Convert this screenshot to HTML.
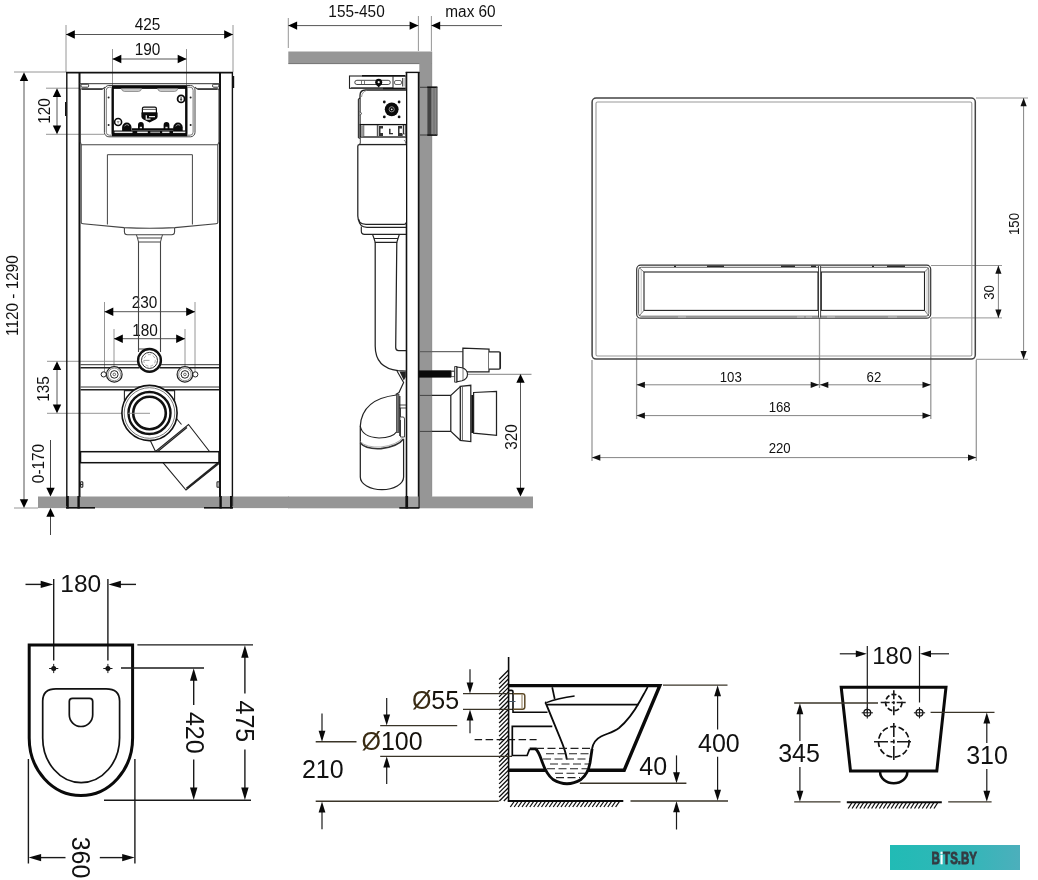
<!DOCTYPE html>
<html><head><meta charset="utf-8"><title>Installation drawing</title>
<style>
html,body{margin:0;padding:0;background:#fff;}
body{width:1038px;height:880px;overflow:hidden;font-family:"Liberation Sans",sans-serif;}
svg{display:block;font-family:"Liberation Sans",sans-serif;will-change:transform;}
</style></head><body>
<svg width="1038" height="880" viewBox="0 0 1038 880">
<rect x="0" y="0" width="1038" height="880" fill="#fff"/>
<g id="front" fill="none" stroke-linecap="butt">
<rect x="38" y="496.5" width="251" height="11.6" fill="#969696"/>
<line x1="66.0" y1="25.0" x2="66.0" y2="72.0" stroke="#8a8a8a" stroke-width="0.9" />
<line x1="233.0" y1="25.0" x2="233.0" y2="72.0" stroke="#8a8a8a" stroke-width="0.9" />
<line x1="66.0" y1="34.5" x2="233.0" y2="34.5" stroke="#555" stroke-width="1" />
<polygon points="66.0,34.5 74.8,30.3 74.8,38.7" fill="#000"/>
<polygon points="233.0,34.5 224.2,30.3 224.2,38.7" fill="#000"/>
<text transform="translate(147.5 30.5) scale(0.96 1)" x="0" y="-0.3" font-size="16" text-anchor="middle" fill="#111" >425</text>
<line x1="112.5" y1="49.0" x2="112.5" y2="87.0" stroke="#8a8a8a" stroke-width="0.9" />
<line x1="186.5" y1="49.0" x2="186.5" y2="87.0" stroke="#8a8a8a" stroke-width="0.9" />
<line x1="112.5" y1="59.0" x2="186.5" y2="59.0" stroke="#555" stroke-width="1" />
<polygon points="112.5,59.0 121.3,54.8 121.3,63.2" fill="#000"/>
<polygon points="186.5,59.0 177.7,54.8 177.7,63.2" fill="#000"/>
<text transform="translate(147.5 55.5) scale(0.96 1)" x="0" y="-0.3" font-size="16" text-anchor="middle" fill="#111" >190</text>
<line x1="14.0" y1="72.0" x2="66.0" y2="72.0" stroke="#8a8a8a" stroke-width="0.9" />
<line x1="14.0" y1="508.0" x2="38.0" y2="508.0" stroke="#8a8a8a" stroke-width="0.9" />
<line x1="24.0" y1="74.0" x2="24.0" y2="506.0" stroke="#555" stroke-width="1" />
<polygon points="24.0,72.3 19.8,81.1 28.2,81.1" fill="#000"/>
<polygon points="24.0,508.0 19.8,499.2 28.2,499.2" fill="#000"/>
<text transform="translate(18.4 295.5) rotate(-90) scale(0.96 1)" x="0" y="-0.3" font-size="16" text-anchor="middle" fill="#111" >1120 - 1290</text>
<line x1="46.0" y1="88.2" x2="80.0" y2="88.2" stroke="#8a8a8a" stroke-width="0.9" />
<line x1="46.0" y1="134.3" x2="104.0" y2="134.3" stroke="#8a8a8a" stroke-width="0.9" />
<line x1="57.0" y1="90.0" x2="57.0" y2="132.0" stroke="#555" stroke-width="1" />
<polygon points="57.0,88.2 52.8,97.0 61.2,97.0" fill="#000"/>
<polygon points="57.0,134.3 52.8,125.5 61.2,125.5" fill="#000"/>
<text transform="translate(49.8 111.0) rotate(-90) scale(0.96 1)" x="0" y="-0.3" font-size="16" text-anchor="middle" fill="#111" >120</text>
<line x1="47.0" y1="361.3" x2="138.0" y2="361.3" stroke="#8a8a8a" stroke-width="0.9" />
<line x1="47.0" y1="413.3" x2="150.0" y2="413.3" stroke="#8a8a8a" stroke-width="0.9" />
<line x1="57.0" y1="363.0" x2="57.0" y2="411.0" stroke="#555" stroke-width="1" />
<polygon points="57.0,361.3 52.8,370.1 61.2,370.1" fill="#000"/>
<polygon points="57.0,413.3 52.8,404.5 61.2,404.5" fill="#000"/>
<text transform="translate(49.0 389.0) rotate(-90) scale(0.96 1)" x="0" y="-0.3" font-size="16" text-anchor="middle" fill="#111" >135</text>
<line x1="50.5" y1="440.0" x2="50.5" y2="490.0" stroke="#444" stroke-width="1" />
<polygon points="50.5,496.5 46.3,487.7 54.7,487.7" fill="#000"/>
<line x1="50.5" y1="516.0" x2="50.5" y2="535.0" stroke="#444" stroke-width="1" />
<polygon points="50.5,508.0 46.3,516.8 54.7,516.8" fill="#000"/>
<text transform="translate(44.6 463.5) rotate(-90) scale(0.96 1)" x="0" y="-0.3" font-size="16" text-anchor="middle" fill="#111" >0-170</text>
<line x1="104.5" y1="302.0" x2="104.5" y2="372.0" stroke="#8a8a8a" stroke-width="0.9" />
<line x1="195.0" y1="302.0" x2="195.0" y2="372.0" stroke="#8a8a8a" stroke-width="0.9" />
<line x1="104.5" y1="311.7" x2="195.0" y2="311.7" stroke="#555" stroke-width="1" />
<polygon points="104.5,311.7 113.3,307.5 113.3,315.9" fill="#000"/>
<polygon points="195.0,311.7 186.2,307.5 186.2,315.9" fill="#000"/>
<text transform="translate(144.5 308.0) scale(0.96 1)" x="0" y="-0.3" font-size="16" text-anchor="middle" fill="#111" >230</text>
<line x1="114.0" y1="329.0" x2="114.0" y2="368.0" stroke="#8a8a8a" stroke-width="0.9" />
<line x1="185.0" y1="329.0" x2="185.0" y2="368.0" stroke="#8a8a8a" stroke-width="0.9" />
<line x1="114.0" y1="338.7" x2="185.0" y2="338.7" stroke="#555" stroke-width="1" />
<polygon points="114.0,338.7 122.8,334.5 122.8,342.9" fill="#000"/>
<polygon points="185.0,338.7 176.2,334.5 176.2,342.9" fill="#000"/>
<text transform="translate(145.0 336.0) scale(0.96 1)" x="0" y="-0.3" font-size="16" text-anchor="middle" fill="#111" >180</text>
<line x1="66.8" y1="72.0" x2="66.8" y2="506.0" stroke="#111" stroke-width="1.4" />
<line x1="79.5" y1="72.0" x2="79.5" y2="497.0" stroke="#111" stroke-width="2" />
<line x1="220.0" y1="72.0" x2="220.0" y2="497.0" stroke="#111" stroke-width="2" />
<line x1="232.4" y1="72.0" x2="232.4" y2="506.0" stroke="#111" stroke-width="1.4" />
<line x1="65.6" y1="102.0" x2="65.6" y2="116.0" stroke="#111" stroke-width="1.2" />
<line x1="233.6" y1="76.0" x2="233.6" y2="88.0" stroke="#111" stroke-width="1.2" />
<line x1="66.0" y1="72.7" x2="233.0" y2="72.7" stroke="#111" stroke-width="1.7" />
<line x1="79.5" y1="83.7" x2="220.0" y2="83.7" stroke="#333" stroke-width="1" />
<rect x="81" y="84.2" width="7.6" height="3" rx="1" stroke="#333" stroke-width="1"/>
<rect x="212.6" y="84.2" width="6.2" height="3" rx="1" stroke="#333" stroke-width="1"/>
<line x1="82.0" y1="89.2" x2="102.5" y2="89.2" stroke="#222" stroke-width="1.4" />
<line x1="197.5" y1="89.2" x2="217.5" y2="89.2" stroke="#222" stroke-width="1.4" />
<rect x="67" y="496.5" width="12.5" height="11.5" fill="#a2a2a2"/>
<rect x="220" y="496.5" width="12.5" height="11.5" fill="#a2a2a2"/>
<line x1="67.6" y1="496.0" x2="67.6" y2="508.5" stroke="#111" stroke-width="2.4" />
<line x1="78.6" y1="496.0" x2="78.6" y2="508.5" stroke="#111" stroke-width="2.4" />
<line x1="220.6" y1="496.0" x2="220.6" y2="508.5" stroke="#111" stroke-width="2.4" />
<line x1="231.2" y1="496.0" x2="231.2" y2="508.5" stroke="#111" stroke-width="2.4" />
<line x1="66.0" y1="507.8" x2="95.0" y2="507.8" stroke="#111" stroke-width="1.6" />
<line x1="204.0" y1="507.8" x2="233.0" y2="507.8" stroke="#111" stroke-width="1.6" />
<rect x="80.6" y="481.8" width="2.2" height="5.4" rx="0.8" stroke="#222" stroke-width="1.1"/>
<line x1="80.6" y1="484.5" x2="82.8" y2="484.5" stroke="#222" stroke-width="0.9" />
<rect x="217" y="481.8" width="2.2" height="5.4" rx="0.8" stroke="#222" stroke-width="1.1"/>
<path d="M81.5,88.9 H102 Q104,88.9 104.7,87 M195.2,87 Q196,88.9 198,88.9 H217.5 Q219,88.9 219,90.5 V142 L217.8,144.8 V222.5 Q217.8,223.6 216,223.8 L175,227.6 Q150,229 124,227.6 L83,223.8 Q81.2,223.6 81.2,222.5 V144.8 L80.3,142 V90.5 Q80.3,88.9 81.5,88.9" stroke="#444" stroke-width="1.1"/>
<line x1="81.2" y1="144.8" x2="217.8" y2="144.8" stroke="#444" stroke-width="1.1" />
<path d="M107.4,224.5 V154.7 H192.4 V224.5" stroke="#444" stroke-width="1"/>
<path d="M124.4,228 V231.5 Q124.4,234.8 127.5,234.8 H171.5 Q174.6,234.8 174.6,231.5 V228" stroke="#444" stroke-width="1.1"/>
<path d="M136.4,234.8 L137.5,238 H161.5 L162.5,234.8 M137.5,238 L138.5,242 H160.5 L161.5,238" stroke="#444" stroke-width="1"/>
<line x1="138.5" y1="242.0" x2="138.5" y2="352.0" stroke="#444" stroke-width="1.1" />
<line x1="160.5" y1="242.0" x2="160.5" y2="352.0" stroke="#444" stroke-width="1.1" />
<line x1="138.5" y1="349.0" x2="147.0" y2="349.0" stroke="#444" stroke-width="1" />
<rect x="104.4" y="85.5" width="90.6" height="51.3" rx="4.5" stroke="#444" stroke-width="1"/>
<rect x="106.3" y="87.2" width="86.8" height="48" rx="3" stroke="#666" stroke-width="0.9"/>
<rect x="112.7" y="87.6" width="73.6" height="47" rx="1.5" stroke="#0a0a0a" stroke-width="2.4" fill="#fff"/>
<line x1="112.0" y1="87.1" x2="187.2" y2="87.1" stroke="#0a0a0a" stroke-width="2.6" />
<line x1="112.0" y1="135.0" x2="187.2" y2="135.0" stroke="#0a0a0a" stroke-width="2.4" />
<circle cx="108.6" cy="97.4" r="1" fill="#222" stroke="none"/>
<circle cx="108.6" cy="125" r="1" fill="#222" stroke="none"/>
<circle cx="190.6" cy="97.4" r="1" fill="#222" stroke="none"/>
<circle cx="190.6" cy="125" r="1" fill="#222" stroke="none"/>
<path d="M121.4,88.6 Q122,91.4 124.5,91.4 H138.5 Q141,91.4 141.6,88.6 Z M157.6,88.6 Q158.2,91.4 160.7,91.4 H174.7 Q177.2,91.4 177.8,88.6 Z" fill="#d0d0d0" stroke="#777" stroke-width="0.8"/>
<circle cx="181.1" cy="98.9" r="3.5" stroke="#0a0a0a" stroke-width="1.8"/>
<path d="M181.1,97 V101 M180,99.3 H182.2" stroke="#222" stroke-width="0.9"/>
<circle cx="118.1" cy="122" r="3.5" stroke="#0a0a0a" stroke-width="1.6"/>
<path d="M116.6,121 L118.1,124 L119.6,121 Z" fill="#999" stroke="none"/>
<path d="M122.1,131 V127.3 A4.7,4.7 0 0 1 131.5,127.3 V131 Z" fill="#0a0a0a" stroke="none"/>
<path d="M124.6,126.3 A2.6,2.6 0 0 1 129.0,125.6" stroke="#aaa" stroke-width="0.9"/>
<path d="M173.3,131 V127.3 A4.7,4.7 0 0 1 182.7,127.3 V131 Z" fill="#0a0a0a" stroke="none"/>
<path d="M175.8,126.3 A2.6,2.6 0 0 1 180.2,125.6" stroke="#aaa" stroke-width="0.9"/>
<path d="M138.0,130 V124.9 A2.9,2.9 0 0 1 143.8,124.9 V130 Z" fill="#0a0a0a" stroke="none"/>
<rect x="139.8" y="126.8" width="2.2" height="2.4" fill="#e8e8e8" stroke="none"/>
<path d="M163.6,130 V124.9 A2.9,2.9 0 0 1 169.4,124.9 V130 Z" fill="#0a0a0a" stroke="none"/>
<rect x="165.4" y="126.8" width="2.2" height="2.4" fill="#e8e8e8" stroke="none"/>
<line x1="131.8" y1="129.4" x2="174.2" y2="129.4" stroke="#0a0a0a" stroke-width="2.2" />
<rect x="113.5" y="130.5" width="72" height="4" fill="#0a0a0a" stroke="none"/>
<line x1="114.5" y1="132.3" x2="132.5" y2="132.3" stroke="#e4e4e4" stroke-width="1.5" />
<line x1="137.2" y1="132.3" x2="147.8" y2="132.3" stroke="#e4e4e4" stroke-width="1.5" />
<line x1="150.3" y1="132.3" x2="160.0" y2="132.3" stroke="#999" stroke-width="1.5" />
<line x1="162.2" y1="132.3" x2="169.5" y2="132.3" stroke="#e4e4e4" stroke-width="1.5" />
<line x1="173.0" y1="132.3" x2="185.3" y2="132.3" stroke="#e4e4e4" stroke-width="1.5" />
<path d="M142.4,113 V108.7 Q142.4,107.2 144,107.2 H154.8 Q156.4,107.2 156.4,108.7 V113 Z" fill="#fff" stroke="#0a0a0a" stroke-width="1.2"/>
<line x1="142.6" y1="109.4" x2="156.2" y2="109.4" stroke="#333" stroke-width="0.8" />
<path d="M141.4,112.6 H157.6 V116.8 Q157.6,118.6 155.6,119.6 L149.6,122.6 L143.5,119.6 Q141.4,118.6 141.4,116.8 Z" fill="#0a0a0a" stroke="none"/>
<path d="M146.3,115.2 V119.2 H150.5 M149,116.6 H155" stroke="#e8e8e8" stroke-width="1.3"/>
<circle cx="149.5" cy="360.4" r="11.4" stroke="#111" stroke-width="2.4" fill="#fff"/>
<circle cx="149.5" cy="360.4" r="8" stroke="#333" stroke-width="1" fill="#fff"/>
<circle cx="149.5" cy="360.4" r="5.8" stroke="#999" stroke-width="0.8" stroke-dasharray="3 2"/>
<line x1="144.0" y1="360.4" x2="149.5" y2="360.4" stroke="#888" stroke-width="0.8" />
<line x1="80.5" y1="364.7" x2="138.0" y2="364.7" stroke="#333" stroke-width="1" />
<line x1="161.0" y1="364.7" x2="219.0" y2="364.7" stroke="#333" stroke-width="1" />
<line x1="80.5" y1="367.8" x2="139.5" y2="367.8" stroke="#222" stroke-width="1.4" />
<line x1="159.5" y1="367.8" x2="219.0" y2="367.8" stroke="#222" stroke-width="1.4" />
<line x1="80.5" y1="387.0" x2="219.0" y2="387.0" stroke="#333" stroke-width="1" />
<line x1="80.5" y1="389.8" x2="219.0" y2="389.8" stroke="#222" stroke-width="1.4" />
<circle cx="103.7" cy="374.4" r="2.6" stroke="#222" stroke-width="1" fill="#fff"/>
<circle cx="114.3" cy="374.4" r="7.8" stroke="#222" stroke-width="1.2" fill="#fff"/>
<circle cx="114.3" cy="374.4" r="6.3" stroke="#777" stroke-width="0.8"/>
<circle cx="114.3" cy="374.4" r="3.8" stroke="#222" stroke-width="1"/>
<circle cx="114.3" cy="374.4" r="1.3" stroke="#444" stroke-width="0.8"/>
<circle cx="195.3" cy="374.4" r="2.6" stroke="#222" stroke-width="1" fill="#fff"/>
<circle cx="184.9" cy="374.4" r="7.8" stroke="#222" stroke-width="1.2" fill="#fff"/>
<circle cx="184.9" cy="374.4" r="6.3" stroke="#777" stroke-width="0.8"/>
<circle cx="184.9" cy="374.4" r="3.8" stroke="#222" stroke-width="1"/>
<circle cx="184.9" cy="374.4" r="1.3" stroke="#444" stroke-width="0.8"/>
<path d="M124.4,402 V390.6 H174.6 V402" stroke="#222" stroke-width="1.1"/>
<path d="M150.5,441 L155.5,451.5 M176,418 L181.5,424.5 M155.5,451.5 L188.5,424.5 L209.5,451.5 M157.5,451.7 L187,427.5" stroke="#222" stroke-width="1.1"/>
<path d="M163,462.7 L186,490 L219,463.5" stroke="#222" stroke-width="1.1"/>
<line x1="186.5" y1="488.5" x2="218.0" y2="463.0" stroke="#222" stroke-width="1.8" />
<circle cx="149.5" cy="413" r="27.6" stroke="#111" stroke-width="1.6" fill="#fff"/>
<circle cx="149.5" cy="413" r="25.3" stroke="#555" stroke-width="0.8"/>
<circle cx="149.5" cy="413" r="21" stroke="#111" stroke-width="2.4"/>
<circle cx="149.5" cy="413" r="16.3" stroke="#111" stroke-width="2.6"/>
<line x1="128.0" y1="413.3" x2="150.0" y2="413.3" stroke="#8a8a8a" stroke-width="0.9" />
<rect x="80.5" y="451.7" width="138.5" height="11" fill="#fff" stroke="#111" stroke-width="1.5"/>
</g>
<g id="side" fill="none">
<rect x="288.3" y="51.5" width="143.3" height="12" fill="#969696"/>
<rect x="419.3" y="63" width="12.3" height="434" fill="#969696"/>
<rect x="288" y="496.5" width="245" height="11.8" fill="#969696"/>
<line x1="288.3" y1="63.6" x2="419.5" y2="63.6" stroke="#666" stroke-width="0.9" />
<line x1="431.7" y1="51.5" x2="431.7" y2="496.5" stroke="#777" stroke-width="0.8" />
<line x1="288.3" y1="18.0" x2="288.3" y2="48.0" stroke="#8a8a8a" stroke-width="0.9" />
<line x1="418.4" y1="16.0" x2="418.4" y2="51.0" stroke="#8a8a8a" stroke-width="0.9" />
<line x1="431.4" y1="16.0" x2="431.4" y2="51.0" stroke="#8a8a8a" stroke-width="0.9" />
<line x1="288.3" y1="25.6" x2="418.4" y2="25.6" stroke="#555" stroke-width="1" />
<polygon points="288.3,25.6 297.1,21.4 297.1,29.8" fill="#000"/>
<polygon points="418.4,25.6 409.6,21.4 409.6,29.8" fill="#000"/>
<line x1="431.4" y1="25.6" x2="502.0" y2="25.6" stroke="#555" stroke-width="1" />
<polygon points="431.4,25.6 440.2,21.4 440.2,29.8" fill="#000"/>
<text transform="translate(356.5 17.5) scale(0.96 1)" x="0" y="-0.3" font-size="16" text-anchor="middle" fill="#111" >155-450</text>
<text transform="translate(470.5 17.5) scale(0.96 1)" x="0" y="-0.3" font-size="16" text-anchor="middle" fill="#111" >max 60</text>
<line x1="467.5" y1="374.3" x2="531.5" y2="374.3" stroke="#777" stroke-width="0.9" />
<line x1="520.5" y1="376.0" x2="520.5" y2="494.0" stroke="#555" stroke-width="1" />
<polygon points="520.5,374.0 516.3,382.8 524.7,382.8" fill="#000"/>
<polygon points="520.5,496.5 516.3,487.7 524.7,487.7" fill="#000"/>
<text transform="translate(517.2 437.0) rotate(-90) scale(0.96 1)" x="0" y="-0.3" font-size="16" text-anchor="middle" fill="#111" >320</text>
<rect x="420" y="87.3" width="17" height="47.6" fill="#989898"/>
<rect x="427.4" y="87.3" width="4.2" height="47.6" fill="#444"/>
<rect x="431.6" y="87.3" width="5.6" height="47.6" fill="#888"/>
<line x1="420.0" y1="87.3" x2="427.4" y2="87.3" stroke="#444" stroke-width="1.1" />
<line x1="420.0" y1="135.0" x2="427.4" y2="135.0" stroke="#444" stroke-width="1.1" />
<line x1="427.2" y1="87.2" x2="437.4" y2="87.2" stroke="#111" stroke-width="1.6" />
<line x1="427.2" y1="135.1" x2="437.4" y2="135.1" stroke="#111" stroke-width="1.6" />
<line x1="437.0" y1="87.3" x2="437.0" y2="135.0" stroke="#555" stroke-width="1" />
<line x1="434.0" y1="88.0" x2="434.0" y2="134.5" stroke="#666" stroke-width="0.8" />
<rect x="406.5" y="72.2" width="12.2" height="436" fill="#fff" stroke="none"/>
<line x1="406.5" y1="72.0" x2="406.5" y2="508.0" stroke="#111" stroke-width="1.6" />
<line x1="418.7" y1="72.0" x2="418.7" y2="508.0" stroke="#111" stroke-width="1.8" />
<line x1="405.7" y1="72.4" x2="419.5" y2="72.4" stroke="#111" stroke-width="1.4" />
<rect x="407" y="496.5" width="11.5" height="11.5" fill="#a2a2a2"/>
<line x1="399.3" y1="507.9" x2="419.4" y2="507.9" stroke="#111" stroke-width="1.6" />
<line x1="406.8" y1="496.0" x2="406.8" y2="508.5" stroke="#111" stroke-width="2.6" />
<rect x="349.5" y="76" width="56.5" height="12.3" fill="#fff" stroke="#222" stroke-width="1.1"/>
<line x1="362.0" y1="75.8" x2="405.0" y2="75.8" stroke="#111" stroke-width="1.6" />
<line x1="351.0" y1="87.5" x2="393.0" y2="87.5" stroke="#666" stroke-width="1" />
<line x1="383.0" y1="88.6" x2="405.0" y2="88.6" stroke="#111" stroke-width="1.5" />
<rect x="354.8" y="80.3" width="35.5" height="4.2" rx="2.1" stroke="#333" stroke-width="0.9"/>
<line x1="361.5" y1="80.5" x2="361.5" y2="84.3" stroke="#555" stroke-width="0.8" />
<line x1="364.5" y1="80.5" x2="364.5" y2="84.3" stroke="#555" stroke-width="0.8" />
<line x1="393.0" y1="76.0" x2="393.0" y2="88.0" stroke="#222" stroke-width="1" />
<rect x="394.5" y="80.5" width="7" height="4" rx="1.5" stroke="#444" stroke-width="0.8"/>
<line x1="402.5" y1="78.0" x2="402.5" y2="86.5" stroke="#444" stroke-width="0.9" />
<line x1="404.0" y1="78.0" x2="404.0" y2="86.5" stroke="#777" stroke-width="0.8" />
<circle cx="378.7" cy="82.2" r="3.5" fill="#0a0a0a"/>
<path d="M375.8,84 L378.7,87.4 L381.6,84 Z" fill="#0a0a0a"/>
<circle cx="378.7" cy="82.2" r="1.1" fill="#f2f2f2"/>
<path d="M406,90 H365.5 Q360,90 360,95.5 V124.6 H406" fill="#fff" stroke="#222" stroke-width="1.3"/>
<path d="M361.5,97 Q362,91.5 367,90.3" stroke="#777" stroke-width="0.8"/>
<path d="M359.8,98 L358.4,99.5 V137.5 L359.8,138.5" stroke="#222" stroke-width="1.15"/>
<line x1="359.3" y1="99.0" x2="359.3" y2="138.0" stroke="#999" stroke-width="0.9" />
<path d="M360,111.5 Q363,113.5 360,115.5" stroke="#444" stroke-width="1" fill="#ddd"/>
<circle cx="391.7" cy="109.3" r="6.9" fill="#0a0a0a"/>
<circle cx="391.7" cy="109.3" r="2.6" fill="none" stroke="#aaa" stroke-width="0.8"/>
<circle cx="391.7" cy="109.3" r="0.9" fill="#eee"/>
<circle cx="384.3" cy="102" r="1.4" fill="#111"/>
<circle cx="399.1" cy="102" r="1.4" fill="#111"/>
<circle cx="384.3" cy="116.9" r="1.4" fill="#111"/>
<circle cx="399.1" cy="116.9" r="1.4" fill="#111"/>
<rect x="360.2" y="124.6" width="45.8" height="12.4" fill="#fff" stroke="#111" stroke-width="1.3"/>
<rect x="361" y="125.4" width="2.6" height="11" fill="#999"/>
<line x1="377.6" y1="125.0" x2="377.6" y2="137.0" stroke="#555" stroke-width="1.6" />
<line x1="363.8" y1="125.0" x2="363.8" y2="137.0" stroke="#555" stroke-width="0.8" />
<path d="M379,126 H383 V128.5 H380.5 V133 H383 V136 H379 Z" fill="#333"/>
<path d="M398,126 H402 V128.5 H399.5 V133 H402 V136 H398 Z" fill="#333"/>
<line x1="403.5" y1="125.0" x2="403.5" y2="137.0" stroke="#333" stroke-width="1.4" />
<rect x="402.5" y="134" width="3" height="2.6" fill="#fff" stroke="#333" stroke-width="0.6"/>
<text x="391" y="133.6" font-size="7" font-weight="bold" text-anchor="middle" fill="#111" stroke="#111" stroke-width="0.3">L</text>
<path d="M360.3,137 V143 Q360.3,144.4 359,144.4 M406,144.4 H359" stroke="#444" stroke-width="1"/>
<path d="M404,140 Q405.5,141 405.8,143.5" stroke="#666" stroke-width="0.8"/>
<path d="M406,144.6 H359.5 Q357.8,144.6 357.8,146.3 V216 Q357.8,224.3 366,224.3 H404 Q406,224.3 406,222.5" fill="#fff" stroke="#222" stroke-width="1.25"/>
<path d="M358.6,219 Q359.2,227.2 367,227.4 H406" stroke="#222" stroke-width="1.15"/>
<path d="M361.3,226.5 V231 Q361.3,234.3 364.5,234.3 H406" stroke="#222" stroke-width="1.15"/>
<path d="M372.5,234.3 L374,238.5 H398 L399.4,234.3 M374,238.5 L375.2,242.3 H396.8 L398,238.5" stroke="#222" stroke-width="1.15"/>
<path d="M375.2,242.3 L375.2,346 Q375.2,368 398,370.6 L406,371" stroke="#222" stroke-width="1.25"/>
<path d="M396.8,242.3 L395.7,347.5 Q395.7,350.5 398.5,350.5 H406" stroke="#222" stroke-width="1.25"/>
<path d="M397,371 L403.6,382.5 L399,392.5 L395.7,394.4" stroke="#222" stroke-width="1.15"/>
<path d="M399.5,371.5 L403.8,380.5 L405.8,377 V371.5 Z" fill="#222"/>
<path d="M396.4,395 Q362,399 360.3,426 V477 A21.65,12.7 0 0 0 403.6,477 V438.8" fill="#fff" stroke="#222" stroke-width="1.25"/>
<path d="M360.3,426 Q362,437 379,438 Q393,437.5 396.4,432" stroke="#222" stroke-width="1.15"/>
<path d="M360.3,443 Q366,449.5 381,448.6 Q398,446.5 403.4,439" stroke="#333" stroke-width="1.6"/>
<path d="M360.3,441.5 Q366,447.8 381,447 Q397,445 402.8,437.5" stroke="#999" stroke-width="0.8"/>
<rect x="396.4" y="394.5" width="2.6" height="38" fill="#777" stroke="#333" stroke-width="0.7"/>
<path d="M399,405 H406 M399,408 H406 M400.5,408 V417 M400.5,417 H403 Q404.5,417 404.5,419 V437 H400.5 V420" stroke="#333" stroke-width="0.9"/>
<line x1="399.8" y1="396.0" x2="399.8" y2="436.0" stroke="#222" stroke-width="1.2" />
<line x1="419.5" y1="351.7" x2="431.6" y2="351.7" stroke="#555" stroke-width="1" />
<path d="M431.6,351.7 H462.9 M462.9,371.2 H431.6" stroke="#444" stroke-width="1"/>
<path d="M462.9,348.1 L489,349.2 V371.9 H462.9 Z" fill="#fff" stroke="#222" stroke-width="1.25"/>
<path d="M489,351.9 H499 Q500.4,351.9 500.4,353.5 V367.5 Q500.4,369.2 499,369.2 H489" fill="#fff" stroke="#222" stroke-width="1.25"/>
<line x1="500.2" y1="352.5" x2="500.2" y2="368.6" stroke="#222" stroke-width="1.6" />
<rect x="419" y="370.4" width="32.2" height="7.2" fill="#0a0a0a"/>
<rect x="451.2" y="371.3" width="3.4" height="5.4" fill="#fff" stroke="#333" stroke-width="0.8"/>
<path d="M454.6,366.5 H457 V382.2 H454.6 Z" fill="#ddd" stroke="#333" stroke-width="0.9"/>
<path d="M457,367 L462,367.8 Q467.5,369.5 467.5,374.3 Q467.5,379 462,380.8 L457,381.7 Z" fill="#fff" stroke="#222" stroke-width="1.15"/>
<line x1="463.0" y1="368.3" x2="463.0" y2="380.4" stroke="#555" stroke-width="0.8" />
<line x1="419.5" y1="395.4" x2="431.6" y2="395.4" stroke="#444" stroke-width="1" />
<line x1="419.5" y1="431.4" x2="431.6" y2="431.4" stroke="#444" stroke-width="1" />
<path d="M431.6,395.4 H450.8 L460.3,386.6 M431.6,431.4 H450.8 L460.3,440.2 M450.8,395.4 V431.4" stroke="#222" stroke-width="1.25"/>
<path d="M460.3,386.4 L470.8,385.3 V441.5 L460.3,440.4 Z" fill="#fff" stroke="#222" stroke-width="1.25"/>
<line x1="462.4" y1="386.3" x2="462.4" y2="440.5" stroke="#555" stroke-width="0.9" />
<rect x="471.3" y="395" width="2.2" height="38" fill="#111"/>
<path d="M473.6,392.5 L496.5,391.4 V435.3 L473.6,433.2 Z" fill="#fff" stroke="#222" stroke-width="1.25"/>
</g>
<g id="plate" fill="none">
<line x1="636.6" y1="318.0" x2="636.6" y2="419.0" stroke="#999" stroke-width="1.3" />
<line x1="819.5" y1="318.0" x2="819.5" y2="388.0" stroke="#999" stroke-width="1.3" />
<line x1="930.8" y1="318.0" x2="930.8" y2="419.0" stroke="#999" stroke-width="1.3" />
<line x1="592.0" y1="360.0" x2="592.0" y2="461.0" stroke="#999" stroke-width="1.3" />
<line x1="976.3" y1="360.0" x2="976.3" y2="461.0" stroke="#999" stroke-width="1.3" />
<line x1="931.0" y1="265.5" x2="1002.0" y2="265.5" stroke="#8a8a8a" stroke-width="0.9" />
<line x1="931.0" y1="317.9" x2="1002.0" y2="317.9" stroke="#8a8a8a" stroke-width="0.9" />
<line x1="976.0" y1="98.0" x2="1028.0" y2="98.0" stroke="#8a8a8a" stroke-width="0.9" />
<line x1="976.0" y1="359.3" x2="1028.0" y2="359.3" stroke="#8a8a8a" stroke-width="0.9" />
<line x1="636.6" y1="384.8" x2="819.5" y2="384.8" stroke="#777" stroke-width="0.9" />
<polygon points="636.6,384.8 644.9,381.7 644.9,387.9" fill="#111"/>
<polygon points="819.0,384.8 810.7,381.7 810.7,387.9" fill="#111"/>
<line x1="819.5" y1="384.8" x2="930.8" y2="384.8" stroke="#777" stroke-width="0.9" />
<polygon points="820.0,384.8 828.3,381.7 828.3,387.9" fill="#111"/>
<polygon points="930.8,384.8 922.5,381.7 922.5,387.9" fill="#111"/>
<line x1="636.6" y1="415.6" x2="930.8" y2="415.6" stroke="#777" stroke-width="0.9" />
<polygon points="636.6,415.6 644.9,412.5 644.9,418.7" fill="#111"/>
<polygon points="930.8,415.6 922.5,412.5 922.5,418.7" fill="#111"/>
<line x1="592.0" y1="457.6" x2="976.3" y2="457.6" stroke="#777" stroke-width="0.9" />
<polygon points="592.0,457.6 600.3,454.5 600.3,460.7" fill="#111"/>
<polygon points="976.3,457.6 968.0,454.5 968.0,460.7" fill="#111"/>
<line x1="998.4" y1="265.5" x2="998.4" y2="317.9" stroke="#777" stroke-width="0.9" />
<polygon points="998.4,265.5 995.3,273.8 1001.5,273.8" fill="#111"/>
<polygon points="998.4,317.9 995.3,309.6 1001.5,309.6" fill="#111"/>
<line x1="1023.6" y1="98.0" x2="1023.6" y2="359.3" stroke="#777" stroke-width="0.9" />
<polygon points="1023.6,98.0 1020.5,106.3 1026.7,106.3" fill="#111"/>
<polygon points="1023.6,359.3 1020.5,351.0 1026.7,351.0" fill="#111"/>
<text transform="translate(730.8 382.0) scale(0.93 1)" x="0" y="0.0" font-size="14.2" text-anchor="middle" fill="#111" >103</text>
<text transform="translate(873.9 382.0) scale(0.93 1)" x="0" y="0.0" font-size="14.2" text-anchor="middle" fill="#111" >62</text>
<text transform="translate(779.7 412.0) scale(0.93 1)" x="0" y="0.0" font-size="14.2" text-anchor="middle" fill="#111" >168</text>
<text transform="translate(779.7 453.0) scale(0.93 1)" x="0" y="0.0" font-size="14.2" text-anchor="middle" fill="#111" >220</text>
<text transform="translate(993.9 292.5) rotate(-90) scale(0.93 1)" x="0" y="0.0" font-size="14.2" text-anchor="middle" fill="#111" >30</text>
<text transform="translate(1018.9 224.0) rotate(-90) scale(0.93 1)" x="0" y="0.0" font-size="14.2" text-anchor="middle" fill="#111" >150</text>
<rect x="592.1" y="98.1" width="383.2" height="261" rx="4" fill="none" stroke="#444" stroke-width="1.5"/>
<rect x="596" y="102" width="375.8" height="254" rx="1.5" stroke="#999" stroke-width="1.1"/>
<rect x="636.7" y="265.2" width="294" height="53" rx="4" fill="#fff" stroke="#333" stroke-width="1.2"/>
<rect x="638.6" y="267.3" width="290.2" height="48.9" rx="2.6" stroke="#555" stroke-width="0.9"/>
<rect x="644" y="272" width="174" height="38.4" stroke="#222" stroke-width="1.1"/>
<rect x="821.3" y="272" width="103.2" height="38.4" stroke="#222" stroke-width="1.1"/>
<line x1="818.6" y1="266.0" x2="818.6" y2="317.5" stroke="#333" stroke-width="1" />
<line x1="820.6" y1="266.0" x2="820.6" y2="317.5" stroke="#333" stroke-width="1" />
<line x1="819.6" y1="266.0" x2="819.6" y2="317.5" stroke="#fff" stroke-width="1" />
<path d="M639,267.5 L644,272 M639,316 L644,310.4 M929,267.5 L924.5,272 M929,316 L924.5,310.4" stroke="#555" stroke-width="0.8"/>
<path d="M641.2,270 V313 M927,270 V313" stroke="#aaa" stroke-width="0.7"/>
<line x1="674.0" y1="266.3" x2="676.0" y2="266.3" stroke="#222" stroke-width="1.3" />
<line x1="707.0" y1="266.3" x2="724.0" y2="266.3" stroke="#222" stroke-width="1.3" />
<line x1="781.0" y1="266.3" x2="795.0" y2="266.3" stroke="#222" stroke-width="1.3" />
<line x1="811.0" y1="266.3" x2="816.0" y2="266.3" stroke="#222" stroke-width="1.3" />
<line x1="872.0" y1="266.3" x2="874.0" y2="266.3" stroke="#222" stroke-width="1.3" />
<line x1="887.0" y1="266.3" x2="905.0" y2="266.3" stroke="#222" stroke-width="1.3" />
<line x1="678.0" y1="317.0" x2="686.0" y2="317.0" stroke="#bbb" stroke-width="1.4" />
<line x1="797.0" y1="317.0" x2="804.0" y2="317.0" stroke="#bbb" stroke-width="1.4" />
<line x1="806.0" y1="317.0" x2="812.0" y2="317.0" stroke="#bbb" stroke-width="1.4" />
<line x1="827.0" y1="317.0" x2="835.0" y2="317.0" stroke="#bbb" stroke-width="1.4" />
<line x1="888.0" y1="317.0" x2="897.0" y2="317.0" stroke="#bbb" stroke-width="1.4" />
</g>
<g id="topview" fill="none">
<line x1="53.7" y1="579.0" x2="53.7" y2="660.5" stroke="#1a1a1a" stroke-width="1.4" />
<line x1="107.9" y1="579.0" x2="107.9" y2="660.5" stroke="#1a1a1a" stroke-width="1.4" />
<line x1="25.5" y1="584.4" x2="45.0" y2="584.4" stroke="#1a1a1a" stroke-width="1.4" />
<polygon points="53.2,584.4 40.7,580.7 40.7,588.1" fill="#0a0a0a"/>
<line x1="116.0" y1="584.4" x2="136.0" y2="584.4" stroke="#1a1a1a" stroke-width="1.4" />
<polygon points="108.4,584.4 120.9,580.7 120.9,588.1" fill="#0a0a0a"/>
<text transform="translate(80.7 591.8)" x="0" y="0.0" font-size="24.5" text-anchor="middle" fill="#111" >180</text>
<circle cx="53.7" cy="668.5" r="2.5" fill="#111"/>
<line x1="49.1" y1="668.5" x2="58.3" y2="668.5" stroke="#1a1a1a" stroke-width="1" />
<line x1="53.7" y1="663.9" x2="53.7" y2="673.1" stroke="#1a1a1a" stroke-width="1" />
<circle cx="107.9" cy="668.5" r="2.5" fill="#111"/>
<line x1="103.3" y1="668.5" x2="112.5" y2="668.5" stroke="#1a1a1a" stroke-width="1" />
<line x1="107.9" y1="663.9" x2="107.9" y2="673.1" stroke="#1a1a1a" stroke-width="1" />
<path d="M29.2,738 V645 H132.6 V738 A51.7,57.6 0 0 1 29.2,738 Z" stroke="#0a0a0a" stroke-width="3" stroke-linejoin="miter"/>
<path d="M42.7,738 V701 Q42.7,688.8 56,688.8 H106 Q119.6,688.8 119.6,701 V738 A38.45,44.6 0 0 1 42.7,738 Z" stroke="#111" stroke-width="1.7"/>
<path d="M69.3,714.8 V701.5 Q69.3,698.4 72.5,698.4 H89.5 Q92.7,698.4 92.7,701.5 V714.8 A11.7,11.7 0 0 1 69.3,714.8 Z" stroke="#111" stroke-width="1.7"/>
<line x1="137.4" y1="644.9" x2="253.0" y2="644.9" stroke="#1a1a1a" stroke-width="1.4" />
<line x1="121.0" y1="668.0" x2="204.0" y2="668.0" stroke="#1a1a1a" stroke-width="1.4" />
<line x1="104.0" y1="800.3" x2="251.0" y2="800.3" stroke="#1a1a1a" stroke-width="1.4" />
<line x1="193.7" y1="676.0" x2="193.7" y2="705.0" stroke="#1a1a1a" stroke-width="1.4" />
<line x1="193.7" y1="759.5" x2="193.7" y2="792.0" stroke="#1a1a1a" stroke-width="1.4" />
<polygon points="193.7,668.2 190.0,680.7 197.4,680.7" fill="#0a0a0a"/>
<polygon points="193.7,800.0 190.0,787.5 197.4,787.5" fill="#0a0a0a"/>
<line x1="244.9" y1="653.0" x2="244.9" y2="693.5" stroke="#1a1a1a" stroke-width="1.4" />
<line x1="244.9" y1="749.5" x2="244.9" y2="792.0" stroke="#1a1a1a" stroke-width="1.4" />
<polygon points="244.9,645.2 241.2,657.7 248.6,657.7" fill="#0a0a0a"/>
<polygon points="244.9,800.0 241.2,787.5 248.6,787.5" fill="#0a0a0a"/>
<text transform="translate(186.3 732.8) rotate(90)" x="0" y="0.0" font-size="25" text-anchor="middle" fill="#111" >420</text>
<text transform="translate(236.2 721.4) rotate(90)" x="0" y="0.0" font-size="25" text-anchor="middle" fill="#111" >475</text>
<line x1="28.4" y1="759.0" x2="28.4" y2="863.5" stroke="#1a1a1a" stroke-width="1.4" />
<line x1="134.9" y1="759.0" x2="134.9" y2="863.5" stroke="#1a1a1a" stroke-width="1.4" />
<line x1="36.0" y1="857.6" x2="65.5" y2="857.6" stroke="#1a1a1a" stroke-width="1.4" />
<line x1="99.8" y1="857.6" x2="127.0" y2="857.6" stroke="#1a1a1a" stroke-width="1.4" />
<polygon points="28.6,857.6 41.1,853.9 41.1,861.3" fill="#0a0a0a"/>
<polygon points="134.7,857.6 122.2,853.9 122.2,861.3" fill="#0a0a0a"/>
<text transform="translate(72.3 857.5) rotate(90)" x="0" y="0.0" font-size="25" text-anchor="middle" fill="#111" >360</text>
</g>
<g id="section" fill="none">
<path d="M499.1,679.5 L508.6,670.0 M499.1,683.9 L508.6,674.4 M499.1,688.2 L508.6,678.7 M499.1,692.6 L508.6,683.1 M499.1,696.9 L508.6,687.4 M499.1,701.3 L508.6,691.8 M499.1,705.6 L508.6,696.1 M499.1,710.0 L508.6,700.5 M499.1,714.3 L508.6,704.8 M499.1,718.7 L508.6,709.2 M499.1,723.0 L508.6,713.5 M499.1,727.4 L508.6,717.9 M499.1,731.7 L508.6,722.2 M499.1,736.1 L508.6,726.6 M499.1,740.4 L508.6,730.9 M499.1,744.8 L508.6,735.3 M499.1,749.1 L508.6,739.6 M499.1,753.5 L508.6,744.0 M499.1,757.8 L508.6,748.3 M499.1,762.2 L508.6,752.7 M499.1,766.5 L508.6,757.0 M499.1,770.9 L508.6,761.4 M499.1,775.2 L508.6,765.7 M499.1,779.6 L508.6,770.1 M499.1,783.9 L508.6,774.4 M499.1,788.3 L508.6,778.8 M499.1,792.6 L508.6,783.1 M499.1,797.0 L508.6,787.5 M499.4,801.0 L508.6,791.8 M503.8,801.0 L508.6,796.2" stroke="#111" stroke-width="1.3"/>
<path d="M514.5,801 L510.3,807 M518.4,801 L514.2,807 M522.3,801 L518.1,807 M526.2,801 L522.0,807 M530.1,801 L525.9,807 M534.0,801 L529.8,807 M537.9,801 L533.7,807 M541.8,801 L537.6,807 M545.7,801 L541.5,807 M549.6,801 L545.4,807 M553.5,801 L549.3,807 M557.4,801 L553.2,807 M561.3,801 L557.1,807 M565.2,801 L561.0,807 M569.1,801 L564.9,807 M573.0,801 L568.8,807 M576.9,801 L572.7,807 M580.8,801 L576.6,807 M584.7,801 L580.5,807 M588.6,801 L584.4,807 M592.5,801 L588.3,807 M596.4,801 L592.2,807 M600.3,801 L596.1,807 M604.2,801 L600.0,807 M608.1,801 L603.9,807 M612.0,801 L607.8,807 M615.9,801 L611.7,807 M619.8,801 L615.6,807" stroke="#111" stroke-width="1.3"/>
<line x1="508.6" y1="657.0" x2="508.6" y2="801.8" stroke="#0a0a0a" stroke-width="1.6" />
<line x1="507.8" y1="801.0" x2="623.3" y2="801.0" stroke="#0a0a0a" stroke-width="1.8" />
<line x1="315.7" y1="801.2" x2="498.8" y2="801.2" stroke="#3a3428" stroke-width="1.4" />
<line x1="315.7" y1="741.8" x2="356.5" y2="741.8" stroke="#3a3428" stroke-width="1.4" />
<line x1="322.0" y1="713.6" x2="322.0" y2="732.0" stroke="#1a1a1a" stroke-width="1.2" />
<polygon points="322.0,741.8 318.6,730.8 325.4,730.8" fill="#0a0a0a"/>
<line x1="322.0" y1="811.0" x2="322.0" y2="829.2" stroke="#1a1a1a" stroke-width="1.2" />
<polygon points="322.0,801.4 318.6,812.4 325.4,812.4" fill="#0a0a0a"/>
<text transform="translate(322.8 778.4)" x="0" y="0.0" font-size="25" text-anchor="middle" fill="#111" >210</text>
<line x1="380.2" y1="725.6" x2="457.2" y2="725.6" stroke="#3a3428" stroke-width="1.4" />
<line x1="380.2" y1="756.4" x2="512.0" y2="756.4" stroke="#3a3428" stroke-width="1.4" />
<line x1="386.7" y1="698.0" x2="386.7" y2="716.0" stroke="#1a1a1a" stroke-width="1.2" />
<polygon points="386.7,725.6 383.3,714.6 390.1,714.6" fill="#0a0a0a"/>
<line x1="386.7" y1="766.0" x2="386.7" y2="784.0" stroke="#1a1a1a" stroke-width="1.2" />
<polygon points="386.7,756.4 383.3,767.4 390.1,767.4" fill="#0a0a0a"/>
<text transform="translate(392.0 749.5)" x="0" y="0.0" font-size="25" text-anchor="middle" fill="#15120c" ><tspan fill="#3a2c14">&#216;</tspan>100</text>
<line x1="463.0" y1="693.6" x2="513.0" y2="693.6" stroke="#3a3428" stroke-width="1.4" />
<line x1="463.0" y1="709.4" x2="513.0" y2="709.4" stroke="#3a3428" stroke-width="1.4" />
<line x1="470.0" y1="669.2" x2="470.0" y2="684.0" stroke="#1a1a1a" stroke-width="1.2" />
<polygon points="470.0,693.6 466.6,682.6 473.4,682.6" fill="#0a0a0a"/>
<line x1="470.0" y1="719.0" x2="470.0" y2="733.2" stroke="#1a1a1a" stroke-width="1.2" />
<polygon points="470.0,709.4 466.6,720.4 473.4,720.4" fill="#0a0a0a"/>
<text transform="translate(435.5 709.0)" x="0" y="0.0" font-size="25" text-anchor="middle" fill="#15120c" ><tspan fill="#3a2c14">&#216;</tspan>55</text>
<line x1="474.6" y1="739.7" x2="536.6" y2="739.7" stroke="#1a1a1a" stroke-width="1.2" stroke-dasharray="7.5 3.5"/>
<line x1="663.0" y1="685.1" x2="727.5" y2="685.1" stroke="#3a3428" stroke-width="1.4" />
<line x1="630.5" y1="801.0" x2="728.0" y2="801.0" stroke="#3a3428" stroke-width="1.4" />
<line x1="717.6" y1="695.0" x2="717.6" y2="729.5" stroke="#1a1a1a" stroke-width="1.2" />
<line x1="717.6" y1="756.7" x2="717.6" y2="791.0" stroke="#1a1a1a" stroke-width="1.2" />
<polygon points="717.6,685.3 714.2,696.3 721.0,696.3" fill="#0a0a0a"/>
<polygon points="717.6,800.8 714.2,789.8 721.0,789.8" fill="#0a0a0a"/>
<text transform="translate(718.9 752.0)" x="0" y="0.0" font-size="25" text-anchor="middle" fill="#111" >400</text>
<line x1="579.8" y1="783.2" x2="686.4" y2="783.2" stroke="#3a3428" stroke-width="1.4" />
<line x1="676.5" y1="755.4" x2="676.5" y2="774.0" stroke="#1a1a1a" stroke-width="1.2" />
<polygon points="676.5,783.2 673.1,772.2 679.9,772.2" fill="#0a0a0a"/>
<line x1="676.5" y1="811.0" x2="676.5" y2="829.5" stroke="#1a1a1a" stroke-width="1.2" />
<polygon points="676.5,801.2 673.1,812.2 679.9,812.2" fill="#0a0a0a"/>
<text transform="translate(653.2 775.0)" x="0" y="0.0" font-size="25" text-anchor="middle" fill="#111" >40</text>
<path d="M508.6,685.6 H659.8 L624.2,770.2 H587.8 M545.3,770.2 H508.6" stroke="#0a0a0a" stroke-width="3.4" stroke-linejoin="miter"/>
<path d="M529.7,748.9 H535.7 Q538.5,751.5 541.5,760 Q546,774 553,779.5 Q567,788 581,779.5 Q588,774 590,763 L592.1,748.9" stroke="#0a0a0a" stroke-width="2.8" stroke-linejoin="round"/>
<path d="M592,749 C593,743 596,739 601,736.5 C607,733.5 613,732.5 619,728 C628,720.5 635,710 640,701 C643.5,694.5 646,690.5 647.6,687" stroke="#0a0a0a" stroke-width="1.8"/>
<line x1="546.2" y1="704.6" x2="638.5" y2="704.6" stroke="#0a0a0a" stroke-width="1.8" />
<path d="M546.2,704.2 Q545,702.8 546.4,702 M546.2,704.2 L560.5,739 Q566,752 566.8,759.5" stroke="#0a0a0a" stroke-width="1.9"/>
<path d="M552.2,687.3 L554.7,699" stroke="#0a0a0a" stroke-width="1.7"/>
<path d="M546.4,702.6 Q558,698 574.6,696" stroke="#0a0a0a" stroke-width="1.5"/>
<path d="M508.6,690.4 H511.5 Q513,690.4 513,692 V712.3 H547.5" stroke="#0a0a0a" stroke-width="1.6"/>
<path d="M513,693.8 H522.5 Q524.8,693.8 524.8,696 V707 Q524.8,709.2 522.5,709.2 H513" stroke="#5d4a28" stroke-width="1.5"/>
<line x1="522.0" y1="694.5" x2="522.0" y2="708.5" stroke="#8a7654" stroke-width="1" />
<line x1="509.0" y1="701.5" x2="515.5" y2="701.5" stroke="#456" stroke-width="1" />
<path d="M552.3,726.4 H512.3 V755.5 H527.1 L529.7,748.9" stroke="#0a0a0a" stroke-width="1.7"/>
<line x1="536.0" y1="748.4" x2="593.0" y2="748.4" stroke="#222" stroke-width="1.1" stroke-dasharray="8 3.5"/>
<line x1="546.0" y1="753.8" x2="592.0" y2="753.8" stroke="#222" stroke-width="1.1" stroke-dasharray="8 3.5"/>
<line x1="543.0" y1="759.0" x2="590.0" y2="759.0" stroke="#222" stroke-width="1.1" stroke-dasharray="8 3.5"/>
<line x1="550.0" y1="764.0" x2="589.0" y2="764.0" stroke="#222" stroke-width="1.1" stroke-dasharray="8 3.5"/>
<line x1="547.0" y1="768.8" x2="588.0" y2="768.8" stroke="#222" stroke-width="1.1" stroke-dasharray="8 3.5"/>
<line x1="555.0" y1="773.3" x2="585.0" y2="773.3" stroke="#222" stroke-width="1.1" stroke-dasharray="8 3.5"/>
<line x1="556.0" y1="777.6" x2="580.0" y2="777.6" stroke="#222" stroke-width="1.1" stroke-dasharray="8 3.5"/>
</g>
<g id="back" fill="none">
<line x1="867.3" y1="646.0" x2="867.3" y2="713.0" stroke="#1a1a1a" stroke-width="1.2" />
<line x1="919.5" y1="646.0" x2="919.5" y2="702.5" stroke="#1a1a1a" stroke-width="1.2" />
<line x1="839.8" y1="653.8" x2="858.0" y2="653.8" stroke="#1a1a1a" stroke-width="1.2" />
<polygon points="866.8,653.8 855.8,650.4 855.8,657.2" fill="#0a0a0a"/>
<line x1="929.0" y1="653.8" x2="949.0" y2="653.8" stroke="#1a1a1a" stroke-width="1.2" />
<polygon points="920.0,653.8 931.0,650.4 931.0,657.2" fill="#0a0a0a"/>
<text transform="translate(892.2 664.2)" x="0" y="0.0" font-size="24" text-anchor="middle" fill="#111" >180</text>
<path d="M841.2,687.2 H946 L936.8,771 H850.5 Z" stroke="#0a0a0a" stroke-width="3" stroke-linejoin="miter"/>
<path d="M880.1,771 V772 A13.6,11.3 0 0 0 907.3,772 V771" stroke="#0a0a0a" stroke-width="2.5"/>
<circle cx="893.8" cy="702.5" r="8.2" stroke="#111" stroke-width="1.7" stroke-dasharray="5 2.2"/>
<line x1="893.8" y1="690.2" x2="893.8" y2="715.2" stroke="#1a1a1a" stroke-width="1.6" stroke-dasharray="9 2 3 2"/>
<line x1="880.7" y1="702.5" x2="906.0" y2="702.5" stroke="#1a1a1a" stroke-width="1.6" stroke-dasharray="9 2 3 2"/>
<circle cx="893.8" cy="741.8" r="15.3" stroke="#111" stroke-width="1.7" stroke-dasharray="6 2.5"/>
<line x1="893.8" y1="723.0" x2="893.8" y2="761.4" stroke="#1a1a1a" stroke-width="1.6" stroke-dasharray="14 2.5 4 2.5"/>
<line x1="874.0" y1="741.8" x2="912.8" y2="741.8" stroke="#1a1a1a" stroke-width="1.6" stroke-dasharray="14 2.5 4 2.5"/>
<circle cx="867.3" cy="712.8" r="3.4" stroke="#111" stroke-width="1.3"/>
<line x1="861.7" y1="712.8" x2="872.9" y2="712.8" stroke="#1a1a1a" stroke-width="1.1" />
<line x1="867.3" y1="707.2" x2="867.3" y2="718.4" stroke="#1a1a1a" stroke-width="1.1" />
<circle cx="919.5" cy="712.8" r="3.4" stroke="#111" stroke-width="1.3"/>
<line x1="913.9" y1="712.8" x2="925.1" y2="712.8" stroke="#1a1a1a" stroke-width="1.1" />
<line x1="919.5" y1="707.2" x2="919.5" y2="718.4" stroke="#1a1a1a" stroke-width="1.1" />
<line x1="794.2" y1="703.0" x2="878.0" y2="703.0" stroke="#3a3428" stroke-width="1.4" />
<line x1="794.2" y1="801.9" x2="840.5" y2="801.9" stroke="#3a3428" stroke-width="1.4" />
<line x1="799.9" y1="712.0" x2="799.9" y2="741.0" stroke="#1a1a1a" stroke-width="1.2" />
<line x1="799.9" y1="767.0" x2="799.9" y2="792.0" stroke="#1a1a1a" stroke-width="1.2" />
<polygon points="799.9,703.2 796.5,714.2 803.3,714.2" fill="#0a0a0a"/>
<polygon points="799.9,801.7 796.5,790.7 803.3,790.7" fill="#0a0a0a"/>
<text transform="translate(799.0 762.2)" x="0" y="0.0" font-size="25" text-anchor="middle" fill="#111" >345</text>
<line x1="930.6" y1="712.4" x2="994.5" y2="712.4" stroke="#3a3428" stroke-width="1.4" />
<line x1="948.2" y1="801.9" x2="991.6" y2="801.9" stroke="#3a3428" stroke-width="1.4" />
<line x1="986.8" y1="722.0" x2="986.8" y2="743.0" stroke="#1a1a1a" stroke-width="1.2" />
<line x1="986.8" y1="769.0" x2="986.8" y2="792.0" stroke="#1a1a1a" stroke-width="1.2" />
<polygon points="986.8,712.6 983.4,723.6 990.2,723.6" fill="#0a0a0a"/>
<polygon points="986.8,801.7 983.4,790.7 990.2,790.7" fill="#0a0a0a"/>
<text transform="translate(987.0 764.2)" x="0" y="0.0" font-size="25" text-anchor="middle" fill="#111" >310</text>
<line x1="846.8" y1="802.2" x2="941.8" y2="802.2" stroke="#0a0a0a" stroke-width="2.1" />
<path d="M852.0,802.5 L848.2,808.5 M855.9,802.5 L852.1,808.5 M859.8,802.5 L856.0,808.5 M863.7,802.5 L859.9,808.5 M867.6,802.5 L863.8,808.5 M871.5,802.5 L867.7,808.5 M875.4,802.5 L871.6,808.5 M879.3,802.5 L875.5,808.5 M883.2,802.5 L879.4,808.5 M887.1,802.5 L883.3,808.5 M891.0,802.5 L887.2,808.5 M894.9,802.5 L891.1,808.5 M898.8,802.5 L895.0,808.5 M902.7,802.5 L898.9,808.5 M906.6,802.5 L902.8,808.5 M910.5,802.5 L906.7,808.5 M914.4,802.5 L910.6,808.5 M918.3,802.5 L914.5,808.5 M922.2,802.5 L918.4,808.5 M926.1,802.5 L922.3,808.5 M930.0,802.5 L926.2,808.5 M933.9,802.5 L930.1,808.5 M937.8,802.5 L934.0,808.5" stroke="#111" stroke-width="1.3"/>
<defs><linearGradient id="wm" x1="0" x2="1" y1="0" y2="0"><stop offset="0" stop-color="#21bbb5"/><stop offset="0.6" stop-color="#33b6b8"/><stop offset="1" stop-color="#4cafbc"/></linearGradient></defs>
<rect x="890" y="845" width="130" height="25" fill="url(#wm)"/>
<text x="931.6" y="864" font-size="16" font-weight="bold" fill="#343b42" stroke="#343b42" stroke-width="0.8" textLength="45.4" lengthAdjust="spacingAndGlyphs">B<tspan fill="#fff" stroke="#fff" stroke-width="0.4">i</tspan>TS.BY</text>
</g>
</svg>
</body></html>
